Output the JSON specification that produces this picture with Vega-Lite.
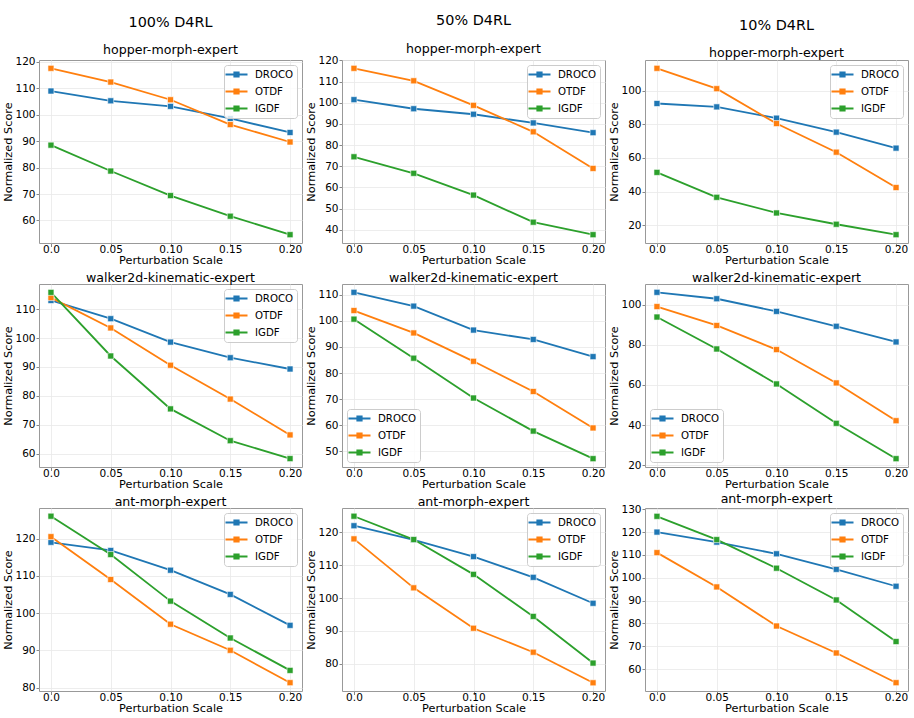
{
  "$schema": "https://vega.github.io/schema/vega-lite/v6.json",
  "background": "white",
  "padding": {"left": 2, "top": 12, "right": 5, "bottom": 5},
  "data": {"values": [
    {"panel":"h100","method":"DROCO","scale":0.0,"score":109.0},{"panel":"h100","method":"DROCO","scale":0.05,"score":105.3},{"panel":"h100","method":"DROCO","scale":0.1,"score":103.2},{"panel":"h100","method":"DROCO","scale":0.15,"score":98.6},{"panel":"h100","method":"DROCO","scale":0.2,"score":93.3},
    {"panel":"h100","method":"OTDF","scale":0.0,"score":117.6},{"panel":"h100","method":"OTDF","scale":0.05,"score":112.4},{"panel":"h100","method":"OTDF","scale":0.1,"score":105.7},{"panel":"h100","method":"OTDF","scale":0.15,"score":96.3},{"panel":"h100","method":"OTDF","scale":0.2,"score":89.7},
    {"panel":"h100","method":"IGDF","scale":0.0,"score":88.5},{"panel":"h100","method":"IGDF","scale":0.05,"score":78.7},{"panel":"h100","method":"IGDF","scale":0.1,"score":69.4},{"panel":"h100","method":"IGDF","scale":0.15,"score":61.6},{"panel":"h100","method":"IGDF","scale":0.2,"score":54.6},
    {"panel":"h50","method":"DROCO","scale":0.0,"score":101.5},{"panel":"h50","method":"DROCO","scale":0.05,"score":97.2},{"panel":"h50","method":"DROCO","scale":0.1,"score":94.6},{"panel":"h50","method":"DROCO","scale":0.15,"score":90.5},{"panel":"h50","method":"DROCO","scale":0.2,"score":85.9},
    {"panel":"h50","method":"OTDF","scale":0.0,"score":116.3},{"panel":"h50","method":"OTDF","scale":0.05,"score":110.4},{"panel":"h50","method":"OTDF","scale":0.1,"score":98.8},{"panel":"h50","method":"OTDF","scale":0.15,"score":86.3},{"panel":"h50","method":"OTDF","scale":0.2,"score":69.0},
    {"panel":"h50","method":"IGDF","scale":0.0,"score":74.5},{"panel":"h50","method":"IGDF","scale":0.05,"score":66.7},{"panel":"h50","method":"IGDF","scale":0.1,"score":56.4},{"panel":"h50","method":"IGDF","scale":0.15,"score":43.6},{"panel":"h50","method":"IGDF","scale":0.2,"score":37.7},
    {"panel":"h10","method":"DROCO","scale":0.0,"score":92.3},{"panel":"h10","method":"DROCO","scale":0.05,"score":90.3},{"panel":"h10","method":"DROCO","scale":0.1,"score":83.6},{"panel":"h10","method":"DROCO","scale":0.15,"score":75.3},{"panel":"h10","method":"DROCO","scale":0.2,"score":65.8},
    {"panel":"h10","method":"OTDF","scale":0.0,"score":113.2},{"panel":"h10","method":"OTDF","scale":0.05,"score":101.1},{"panel":"h10","method":"OTDF","scale":0.1,"score":80.4},{"panel":"h10","method":"OTDF","scale":0.15,"score":63.4},{"panel":"h10","method":"OTDF","scale":0.2,"score":42.4},
    {"panel":"h10","method":"IGDF","scale":0.0,"score":51.4},{"panel":"h10","method":"IGDF","scale":0.05,"score":36.6},{"panel":"h10","method":"IGDF","scale":0.1,"score":27.3},{"panel":"h10","method":"IGDF","scale":0.15,"score":20.6},{"panel":"h10","method":"IGDF","scale":0.2,"score":14.4},
    {"panel":"w100","method":"DROCO","scale":0.0,"score":113.0},{"panel":"w100","method":"DROCO","scale":0.05,"score":106.7},{"panel":"w100","method":"DROCO","scale":0.1,"score":98.6},{"panel":"w100","method":"DROCO","scale":0.15,"score":93.2},{"panel":"w100","method":"DROCO","scale":0.2,"score":89.3},
    {"panel":"w100","method":"OTDF","scale":0.0,"score":114.0},{"panel":"w100","method":"OTDF","scale":0.05,"score":103.5},{"panel":"w100","method":"OTDF","scale":0.1,"score":90.6},{"panel":"w100","method":"OTDF","scale":0.15,"score":78.9},{"panel":"w100","method":"OTDF","scale":0.2,"score":66.5},
    {"panel":"w100","method":"IGDF","scale":0.0,"score":115.8},{"panel":"w100","method":"IGDF","scale":0.05,"score":93.8},{"panel":"w100","method":"IGDF","scale":0.1,"score":75.5},{"panel":"w100","method":"IGDF","scale":0.15,"score":64.5},{"panel":"w100","method":"IGDF","scale":0.2,"score":58.3},
    {"panel":"w50","method":"DROCO","scale":0.0,"score":111.0},{"panel":"w50","method":"DROCO","scale":0.05,"score":105.7},{"panel":"w50","method":"DROCO","scale":0.1,"score":96.5},{"panel":"w50","method":"DROCO","scale":0.15,"score":92.9},{"panel":"w50","method":"DROCO","scale":0.2,"score":86.3},
    {"panel":"w50","method":"OTDF","scale":0.0,"score":104.0},{"panel":"w50","method":"OTDF","scale":0.05,"score":95.4},{"panel":"w50","method":"OTDF","scale":0.1,"score":84.5},{"panel":"w50","method":"OTDF","scale":0.15,"score":72.9},{"panel":"w50","method":"OTDF","scale":0.2,"score":58.9},
    {"panel":"w50","method":"IGDF","scale":0.0,"score":100.7},{"panel":"w50","method":"IGDF","scale":0.05,"score":85.7},{"panel":"w50","method":"IGDF","scale":0.1,"score":70.4},{"panel":"w50","method":"IGDF","scale":0.15,"score":57.7},{"panel":"w50","method":"IGDF","scale":0.2,"score":47.1},
    {"panel":"w10","method":"DROCO","scale":0.0,"score":106.1},{"panel":"w10","method":"DROCO","scale":0.05,"score":102.9},{"panel":"w10","method":"DROCO","scale":0.1,"score":96.6},{"panel":"w10","method":"DROCO","scale":0.15,"score":89.2},{"panel":"w10","method":"DROCO","scale":0.2,"score":81.4},
    {"panel":"w10","method":"OTDF","scale":0.0,"score":99.0},{"panel":"w10","method":"OTDF","scale":0.05,"score":89.6},{"panel":"w10","method":"OTDF","scale":0.1,"score":77.6},{"panel":"w10","method":"OTDF","scale":0.15,"score":61.0},{"panel":"w10","method":"OTDF","scale":0.2,"score":42.2},
    {"panel":"w10","method":"IGDF","scale":0.0,"score":93.8},{"panel":"w10","method":"IGDF","scale":0.05,"score":77.9},{"panel":"w10","method":"IGDF","scale":0.1,"score":60.5},{"panel":"w10","method":"IGDF","scale":0.15,"score":40.9},{"panel":"w10","method":"IGDF","scale":0.2,"score":23.3},
    {"panel":"a100","method":"DROCO","scale":0.0,"score":119.0},{"panel":"a100","method":"DROCO","scale":0.05,"score":116.8},{"panel":"a100","method":"DROCO","scale":0.1,"score":111.5},{"panel":"a100","method":"DROCO","scale":0.15,"score":105.0},{"panel":"a100","method":"DROCO","scale":0.2,"score":96.7},
    {"panel":"a100","method":"OTDF","scale":0.0,"score":120.5},{"panel":"a100","method":"OTDF","scale":0.05,"score":109.0},{"panel":"a100","method":"OTDF","scale":0.1,"score":97.0},{"panel":"a100","method":"OTDF","scale":0.15,"score":90.0},{"panel":"a100","method":"OTDF","scale":0.2,"score":81.3},
    {"panel":"a100","method":"IGDF","scale":0.0,"score":126.0},{"panel":"a100","method":"IGDF","scale":0.05,"score":115.7},{"panel":"a100","method":"IGDF","scale":0.1,"score":103.2},{"panel":"a100","method":"IGDF","scale":0.15,"score":93.3},{"panel":"a100","method":"IGDF","scale":0.2,"score":84.6},
    {"panel":"a50","method":"DROCO","scale":0.0,"score":122.0},{"panel":"a50","method":"DROCO","scale":0.05,"score":117.7},{"panel":"a50","method":"DROCO","scale":0.1,"score":112.6},{"panel":"a50","method":"DROCO","scale":0.15,"score":106.3},{"panel":"a50","method":"DROCO","scale":0.2,"score":98.4},
    {"panel":"a50","method":"OTDF","scale":0.0,"score":118.0},{"panel":"a50","method":"OTDF","scale":0.05,"score":103.1},{"panel":"a50","method":"OTDF","scale":0.1,"score":90.8},{"panel":"a50","method":"OTDF","scale":0.15,"score":83.5},{"panel":"a50","method":"OTDF","scale":0.2,"score":74.2},
    {"panel":"a50","method":"IGDF","scale":0.0,"score":124.9},{"panel":"a50","method":"IGDF","scale":0.05,"score":117.8},{"panel":"a50","method":"IGDF","scale":0.1,"score":107.2},{"panel":"a50","method":"IGDF","scale":0.15,"score":94.4},{"panel":"a50","method":"IGDF","scale":0.2,"score":80.2},
    {"panel":"a10","method":"DROCO","scale":0.0,"score":120.0},{"panel":"a10","method":"DROCO","scale":0.05,"score":115.6},{"panel":"a10","method":"DROCO","scale":0.1,"score":110.5},{"panel":"a10","method":"DROCO","scale":0.15,"score":103.7},{"panel":"a10","method":"DROCO","scale":0.2,"score":96.3},
    {"panel":"a10","method":"OTDF","scale":0.0,"score":111.0},{"panel":"a10","method":"OTDF","scale":0.05,"score":96.0},{"panel":"a10","method":"OTDF","scale":0.1,"score":78.9},{"panel":"a10","method":"OTDF","scale":0.15,"score":67.1},{"panel":"a10","method":"OTDF","scale":0.2,"score":54.1},
    {"panel":"a10","method":"IGDF","scale":0.0,"score":126.9},{"panel":"a10","method":"IGDF","scale":0.05,"score":116.7},{"panel":"a10","method":"IGDF","scale":0.1,"score":104.2},{"panel":"a10","method":"IGDF","scale":0.15,"score":90.3},{"panel":"a10","method":"IGDF","scale":0.2,"score":72.1}
  ]},
  "columns": 3,
  "bounds": "flush",
  "spacing": {"row": 41, "column": 40},
  "resolve": {"scale": {"color": "independent"}, "legend": {"color": "independent"}},
  "concat": [
    {
      "width": 263, "height": 183,
      "title": {"text": "100% D4RL", "fontSize": 14.4, "subtitle": "hopper-morph-expert", "subtitleFontSize": 12.6, "subtitlePadding": 14},
      "transform": [{"filter": "datum.panel === 'h100'"}],
      "encoding": {
        "x": {"field": "scale", "type": "quantitative", "title": "Perturbation Scale", "scale": {"domain": [-0.01, 0.21], "nice": false, "zero": false}, "axis": {"values": [0, 0.05, 0.1, 0.15, 0.2], "labelExpr": "datum.value === 0 ? '0.0' : format(datum.value, '.2f')"}},
        "y": {"field": "score", "type": "quantitative", "title": "Normalized Score", "scale": {"domain": [51.45, 120.75], "nice": false, "zero": false}, "axis": {"values": [60, 70, 80, 90, 100, 110, 120]}},
        "color": {"field": "method", "type": "nominal", "scale": {"domain": ["DROCO", "OTDF", "IGDF"], "range": ["#1f77b4", "#ff7f0e", "#2ca02c"]}, "legend": {"orient": "top-right", "title": null}}
      },
      "layer": [
        {"mark": {"type": "line", "strokeWidth": 1.8}},
        {"mark": {"type": "point", "shape": "square", "filled": true, "size": 36, "stroke": "white", "strokeWidth": 0.6, "opacity": 1}}
      ]
    },
    {
      "width": 263, "height": 183,
      "title": {"text": "50% D4RL", "fontSize": 14.4, "subtitle": "hopper-morph-expert", "subtitleFontSize": 12.6, "subtitlePadding": 14},
      "transform": [{"filter": "datum.panel === 'h50'"}],
      "encoding": {
        "x": {"field": "scale", "type": "quantitative", "title": "Perturbation Scale", "scale": {"domain": [-0.01, 0.21], "nice": false, "zero": false}, "axis": {"values": [0, 0.05, 0.1, 0.15, 0.2], "labelExpr": "datum.value === 0 ? '0.0' : format(datum.value, '.2f')"}},
        "y": {"field": "score", "type": "quantitative", "title": "Normalized Score", "scale": {"domain": [33.77, 120.23], "nice": false, "zero": false}, "axis": {"values": [40, 50, 60, 70, 80, 90, 100, 110, 120]}},
        "color": {"field": "method", "type": "nominal", "scale": {"domain": ["DROCO", "OTDF", "IGDF"], "range": ["#1f77b4", "#ff7f0e", "#2ca02c"]}, "legend": {"orient": "top-right", "title": null}}
      },
      "layer": [
        {"mark": {"type": "line", "strokeWidth": 1.8}},
        {"mark": {"type": "point", "shape": "square", "filled": true, "size": 36, "stroke": "white", "strokeWidth": 0.6, "opacity": 1}}
      ]
    },
    {
      "width": 263, "height": 183,
      "title": {"text": "10% D4RL", "fontSize": 14.4, "subtitle": "hopper-morph-expert", "subtitleFontSize": 12.6, "subtitlePadding": 14},
      "transform": [{"filter": "datum.panel === 'h10'"}],
      "encoding": {
        "x": {"field": "scale", "type": "quantitative", "title": "Perturbation Scale", "scale": {"domain": [-0.01, 0.21], "nice": false, "zero": false}, "axis": {"values": [0, 0.05, 0.1, 0.15, 0.2], "labelExpr": "datum.value === 0 ? '0.0' : format(datum.value, '.2f')"}},
        "y": {"field": "score", "type": "quantitative", "title": "Normalized Score", "scale": {"domain": [9.46, 118.14], "nice": false, "zero": false}, "axis": {"values": [20, 40, 60, 80, 100]}},
        "color": {"field": "method", "type": "nominal", "scale": {"domain": ["DROCO", "OTDF", "IGDF"], "range": ["#1f77b4", "#ff7f0e", "#2ca02c"]}, "legend": {"orient": "top-right", "title": null}}
      },
      "layer": [
        {"mark": {"type": "line", "strokeWidth": 1.8}},
        {"mark": {"type": "point", "shape": "square", "filled": true, "size": 36, "stroke": "white", "strokeWidth": 0.6, "opacity": 1}}
      ]
    },
    {
      "width": 263, "height": 183,
      "title": {"text": "walker2d-kinematic-expert"},
      "transform": [{"filter": "datum.panel === 'w100'"}],
      "encoding": {
        "x": {"field": "scale", "type": "quantitative", "title": "Perturbation Scale", "scale": {"domain": [-0.01, 0.21], "nice": false, "zero": false}, "axis": {"values": [0, 0.05, 0.1, 0.15, 0.2], "labelExpr": "datum.value === 0 ? '0.0' : format(datum.value, '.2f')"}},
        "y": {"field": "score", "type": "quantitative", "title": "Normalized Score", "scale": {"domain": [55.4, 118.7], "nice": false, "zero": false}, "axis": {"values": [60, 70, 80, 90, 100, 110]}},
        "color": {"field": "method", "type": "nominal", "scale": {"domain": ["DROCO", "OTDF", "IGDF"], "range": ["#1f77b4", "#ff7f0e", "#2ca02c"]}, "legend": {"orient": "top-right", "title": null}}
      },
      "layer": [
        {"mark": {"type": "line", "strokeWidth": 1.8}},
        {"mark": {"type": "point", "shape": "square", "filled": true, "size": 36, "stroke": "white", "strokeWidth": 0.6, "opacity": 1}}
      ]
    },
    {
      "width": 263, "height": 183,
      "title": {"text": "walker2d-kinematic-expert"},
      "transform": [{"filter": "datum.panel === 'w50'"}],
      "encoding": {
        "x": {"field": "scale", "type": "quantitative", "title": "Perturbation Scale", "scale": {"domain": [-0.01, 0.21], "nice": false, "zero": false}, "axis": {"values": [0, 0.05, 0.1, 0.15, 0.2], "labelExpr": "datum.value === 0 ? '0.0' : format(datum.value, '.2f')"}},
        "y": {"field": "score", "type": "quantitative", "title": "Normalized Score", "scale": {"domain": [43.9, 114.2], "nice": false, "zero": false}, "axis": {"values": [50, 60, 70, 80, 90, 100, 110]}},
        "color": {"field": "method", "type": "nominal", "scale": {"domain": ["DROCO", "OTDF", "IGDF"], "range": ["#1f77b4", "#ff7f0e", "#2ca02c"]}, "legend": {"orient": "bottom-left", "title": null}}
      },
      "layer": [
        {"mark": {"type": "line", "strokeWidth": 1.8}},
        {"mark": {"type": "point", "shape": "square", "filled": true, "size": 36, "stroke": "white", "strokeWidth": 0.6, "opacity": 1}}
      ]
    },
    {
      "width": 263, "height": 183,
      "title": {"text": "walker2d-kinematic-expert"},
      "transform": [{"filter": "datum.panel === 'w10'"}],
      "encoding": {
        "x": {"field": "scale", "type": "quantitative", "title": "Perturbation Scale", "scale": {"domain": [-0.01, 0.21], "nice": false, "zero": false}, "axis": {"values": [0, 0.05, 0.1, 0.15, 0.2], "labelExpr": "datum.value === 0 ? '0.0' : format(datum.value, '.2f')"}},
        "y": {"field": "score", "type": "quantitative", "title": "Normalized Score", "scale": {"domain": [19.16, 110.24], "nice": false, "zero": false}, "axis": {"values": [20, 40, 60, 80, 100]}},
        "color": {"field": "method", "type": "nominal", "scale": {"domain": ["DROCO", "OTDF", "IGDF"], "range": ["#1f77b4", "#ff7f0e", "#2ca02c"]}, "legend": {"orient": "bottom-left", "title": null}}
      },
      "layer": [
        {"mark": {"type": "line", "strokeWidth": 1.8}},
        {"mark": {"type": "point", "shape": "square", "filled": true, "size": 36, "stroke": "white", "strokeWidth": 0.6, "opacity": 1}}
      ]
    },
    {
      "width": 263, "height": 183,
      "title": {"text": "ant-morph-expert"},
      "transform": [{"filter": "datum.panel === 'a100'"}],
      "encoding": {
        "x": {"field": "scale", "type": "quantitative", "title": "Perturbation Scale", "scale": {"domain": [-0.01, 0.21], "nice": false, "zero": false}, "axis": {"values": [0, 0.05, 0.1, 0.15, 0.2], "labelExpr": "datum.value === 0 ? '0.0' : format(datum.value, '.2f')"}},
        "y": {"field": "score", "type": "quantitative", "title": "Normalized Score", "scale": {"domain": [79.07, 128.2], "nice": false, "zero": false}, "axis": {"values": [80, 90, 100, 110, 120]}},
        "color": {"field": "method", "type": "nominal", "scale": {"domain": ["DROCO", "OTDF", "IGDF"], "range": ["#1f77b4", "#ff7f0e", "#2ca02c"]}, "legend": {"orient": "top-right", "title": null}}
      },
      "layer": [
        {"mark": {"type": "line", "strokeWidth": 1.8}},
        {"mark": {"type": "point", "shape": "square", "filled": true, "size": 36, "stroke": "white", "strokeWidth": 0.6, "opacity": 1}}
      ]
    },
    {
      "width": 263, "height": 183,
      "title": {"text": "ant-morph-expert"},
      "transform": [{"filter": "datum.panel === 'a50'"}],
      "encoding": {
        "x": {"field": "scale", "type": "quantitative", "title": "Perturbation Scale", "scale": {"domain": [-0.01, 0.21], "nice": false, "zero": false}, "axis": {"values": [0, 0.05, 0.1, 0.15, 0.2], "labelExpr": "datum.value === 0 ? '0.0' : format(datum.value, '.2f')"}},
        "y": {"field": "score", "type": "quantitative", "title": "Normalized Score", "scale": {"domain": [71.7, 127.4], "nice": false, "zero": false}, "axis": {"values": [80, 90, 100, 110, 120]}},
        "color": {"field": "method", "type": "nominal", "scale": {"domain": ["DROCO", "OTDF", "IGDF"], "range": ["#1f77b4", "#ff7f0e", "#2ca02c"]}, "legend": {"orient": "top-right", "title": null}}
      },
      "layer": [
        {"mark": {"type": "line", "strokeWidth": 1.8}},
        {"mark": {"type": "point", "shape": "square", "filled": true, "size": 36, "stroke": "white", "strokeWidth": 0.6, "opacity": 1}}
      ]
    },
    {
      "width": 263, "height": 183,
      "title": {"text": "ant-morph-expert"},
      "transform": [{"filter": "datum.panel === 'a10'"}],
      "encoding": {
        "x": {"field": "scale", "type": "quantitative", "title": "Perturbation Scale", "scale": {"domain": [-0.01, 0.21], "nice": false, "zero": false}, "axis": {"values": [0, 0.05, 0.1, 0.15, 0.2], "labelExpr": "datum.value === 0 ? '0.0' : format(datum.value, '.2f')"}},
        "y": {"field": "score", "type": "quantitative", "title": "Normalized Score", "scale": {"domain": [50.46, 130.54], "nice": false, "zero": false}, "axis": {"values": [60, 70, 80, 90, 100, 110, 120, 130]}},
        "color": {"field": "method", "type": "nominal", "scale": {"domain": ["DROCO", "OTDF", "IGDF"], "range": ["#1f77b4", "#ff7f0e", "#2ca02c"]}, "legend": {"orient": "top-right", "title": null}}
      },
      "layer": [
        {"mark": {"type": "line", "strokeWidth": 1.8}},
        {"mark": {"type": "point", "shape": "square", "filled": true, "size": 36, "stroke": "white", "strokeWidth": 0.6, "opacity": 1}}
      ]
    }
  ],
  "config": {
    "font": "DejaVu Sans",
    "view": {"stroke": "#999999", "strokeWidth": 1},
    "axis": {"domain": false, "grid": true, "gridColor": "#e8e8e8", "gridWidth": 0.8, "tickColor": "#888888", "tickSize": 3, "labelFont": "DejaVu Sans", "labelFontSize": 10.5, "labelColor": "black", "titleFont": "DejaVu Sans", "titleFontSize": 11.3, "titleFontWeight": "normal", "titleColor": "black", "labelPadding": 1, "titlePadding": 1},
    "axisX": {"labelFlush": false, "tickSize": 3.5, "labelPadding": -2, "titlePadding": -0.5},
    "title": {"font": "DejaVu Sans", "fontSize": 12.6, "fontWeight": "normal", "color": "black", "offset": -1, "subtitleFont": "DejaVu Sans", "subtitleColor": "black"},
    "legend": {
      "offset": 5,
      "padding": 3,
      "fillColor": "rgba(255,255,255,0.8)",
      "strokeColor": "#cccccc",
      "cornerRadius": 3,
      "labelFont": "DejaVu Sans",
      "labelFontSize": 10.2,
      "labelColor": "black",
      "symbolType": "M-2,0H2M-0.4,-0.4H0.4V0.4H-0.4Z",
      "symbolSize": 121,
      "symbolOffset": 3,
      "labelOffset": 12,
      "symbolStrokeWidth": 1.8,
      "rowPadding": 4,
      "symbolOpacity": 1
    }
  }
}
